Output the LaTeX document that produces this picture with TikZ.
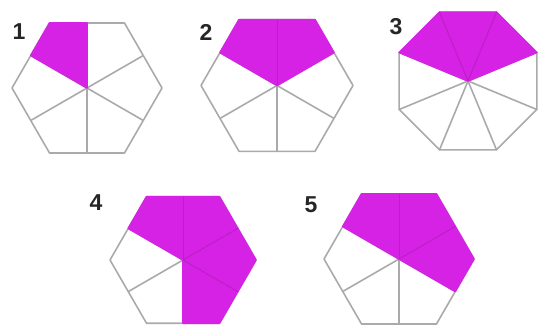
\documentclass[tikz,border=0pt]{standalone}
\usepackage{fontspec}
\setmainfont{Liberation Sans}
\definecolor{shade}{RGB}{214,34,228}
\definecolor{edge}{RGB}{170,170,170}
\definecolor{inner}{RGB}{188,30,200}
\newcommand\hexfig[4]{%
  \begin{scope}[shift={(#1,#2)}]
    \pgfmathsetmacro\ap{#3*cos(30)}
    \draw[edgeline] (0:#3) \foreach \a in {60,120,...,300}{ -- (\a:#3)} -- cycle;
    \foreach \a in {30,90,...,330} \draw[edgeline] (0,0) -- (\a:\ap);
    \foreach \v in {#4} \filldraw[fillpart] (0,0) -- (\v-30:\ap) -- (\v:#3) -- (\v+30:\ap) -- cycle;
  \end{scope}}
\begin{document}
\begin{tikzpicture}[x=1pt,y=1pt,
  edgeline/.style={draw=edge,line width=1.6pt,line join=round,line cap=round},
  innerline/.style={draw=inner,line width=1pt},
  fillpart/.style={fill=shade,draw=shade,line width=1.6pt,line join=round},
  numlabel/.style={font=\bfseries\fontsize{23}{23}\selectfont,text=black!85}]
\useasboundingbox (0,0) rectangle (539,327);
% figure 1
\hexfig{87}{239}{75}{120}
% figure 2
\hexfig{277}{241.5}{76}{60,120}
\draw[innerline] (277,241.5) -- ++(90:65.8);
% figure 3 (octagon)
\begin{scope}[shift={(468,246)}]
  \draw[edgeline] (22.5:74.5) \foreach \a in {67.5,112.5,...,337.5}{ -- (\a:74.5)} -- cycle;
  \foreach \a in {22.5,67.5,...,337.5} \draw[edgeline] (0,0) -- (\a:74.5);
  \filldraw[fillpart] (0,0) -- (22.5:74.5) -- (67.5:74.5) -- (112.5:74.5) -- (157.5:74.5) -- cycle;
  \draw[innerline] (0,0) -- (67.5:74.5);
  \draw[innerline] (0,0) -- (112.5:74.5);
\end{scope}
% figure 4
\hexfig{183}{67}{73}{120,60,0,-60}
\draw[innerline] (183,67) -- ++(90:63.2);
\draw[innerline] (183,67) -- ++(30:63.2);
\draw[innerline] (183,67) -- ++(-30:63.2);
% figure 5
\hexfig{399}{68}{75}{120,60,0}
\draw[innerline] (399,68) -- ++(90:64.95);
\draw[innerline] (399,68) -- ++(30:64.95);
% labels
\node[numlabel] (n1) at (19,295) {1};
\node[numlabel] (n2) at (206,295) {2};
\node[numlabel] (n3) at (396,300) {3};
\node[numlabel] (n4) at (96,124) {4};
\node[numlabel] (n5) at (311,122) {5};
\end{tikzpicture}
\end{document}
